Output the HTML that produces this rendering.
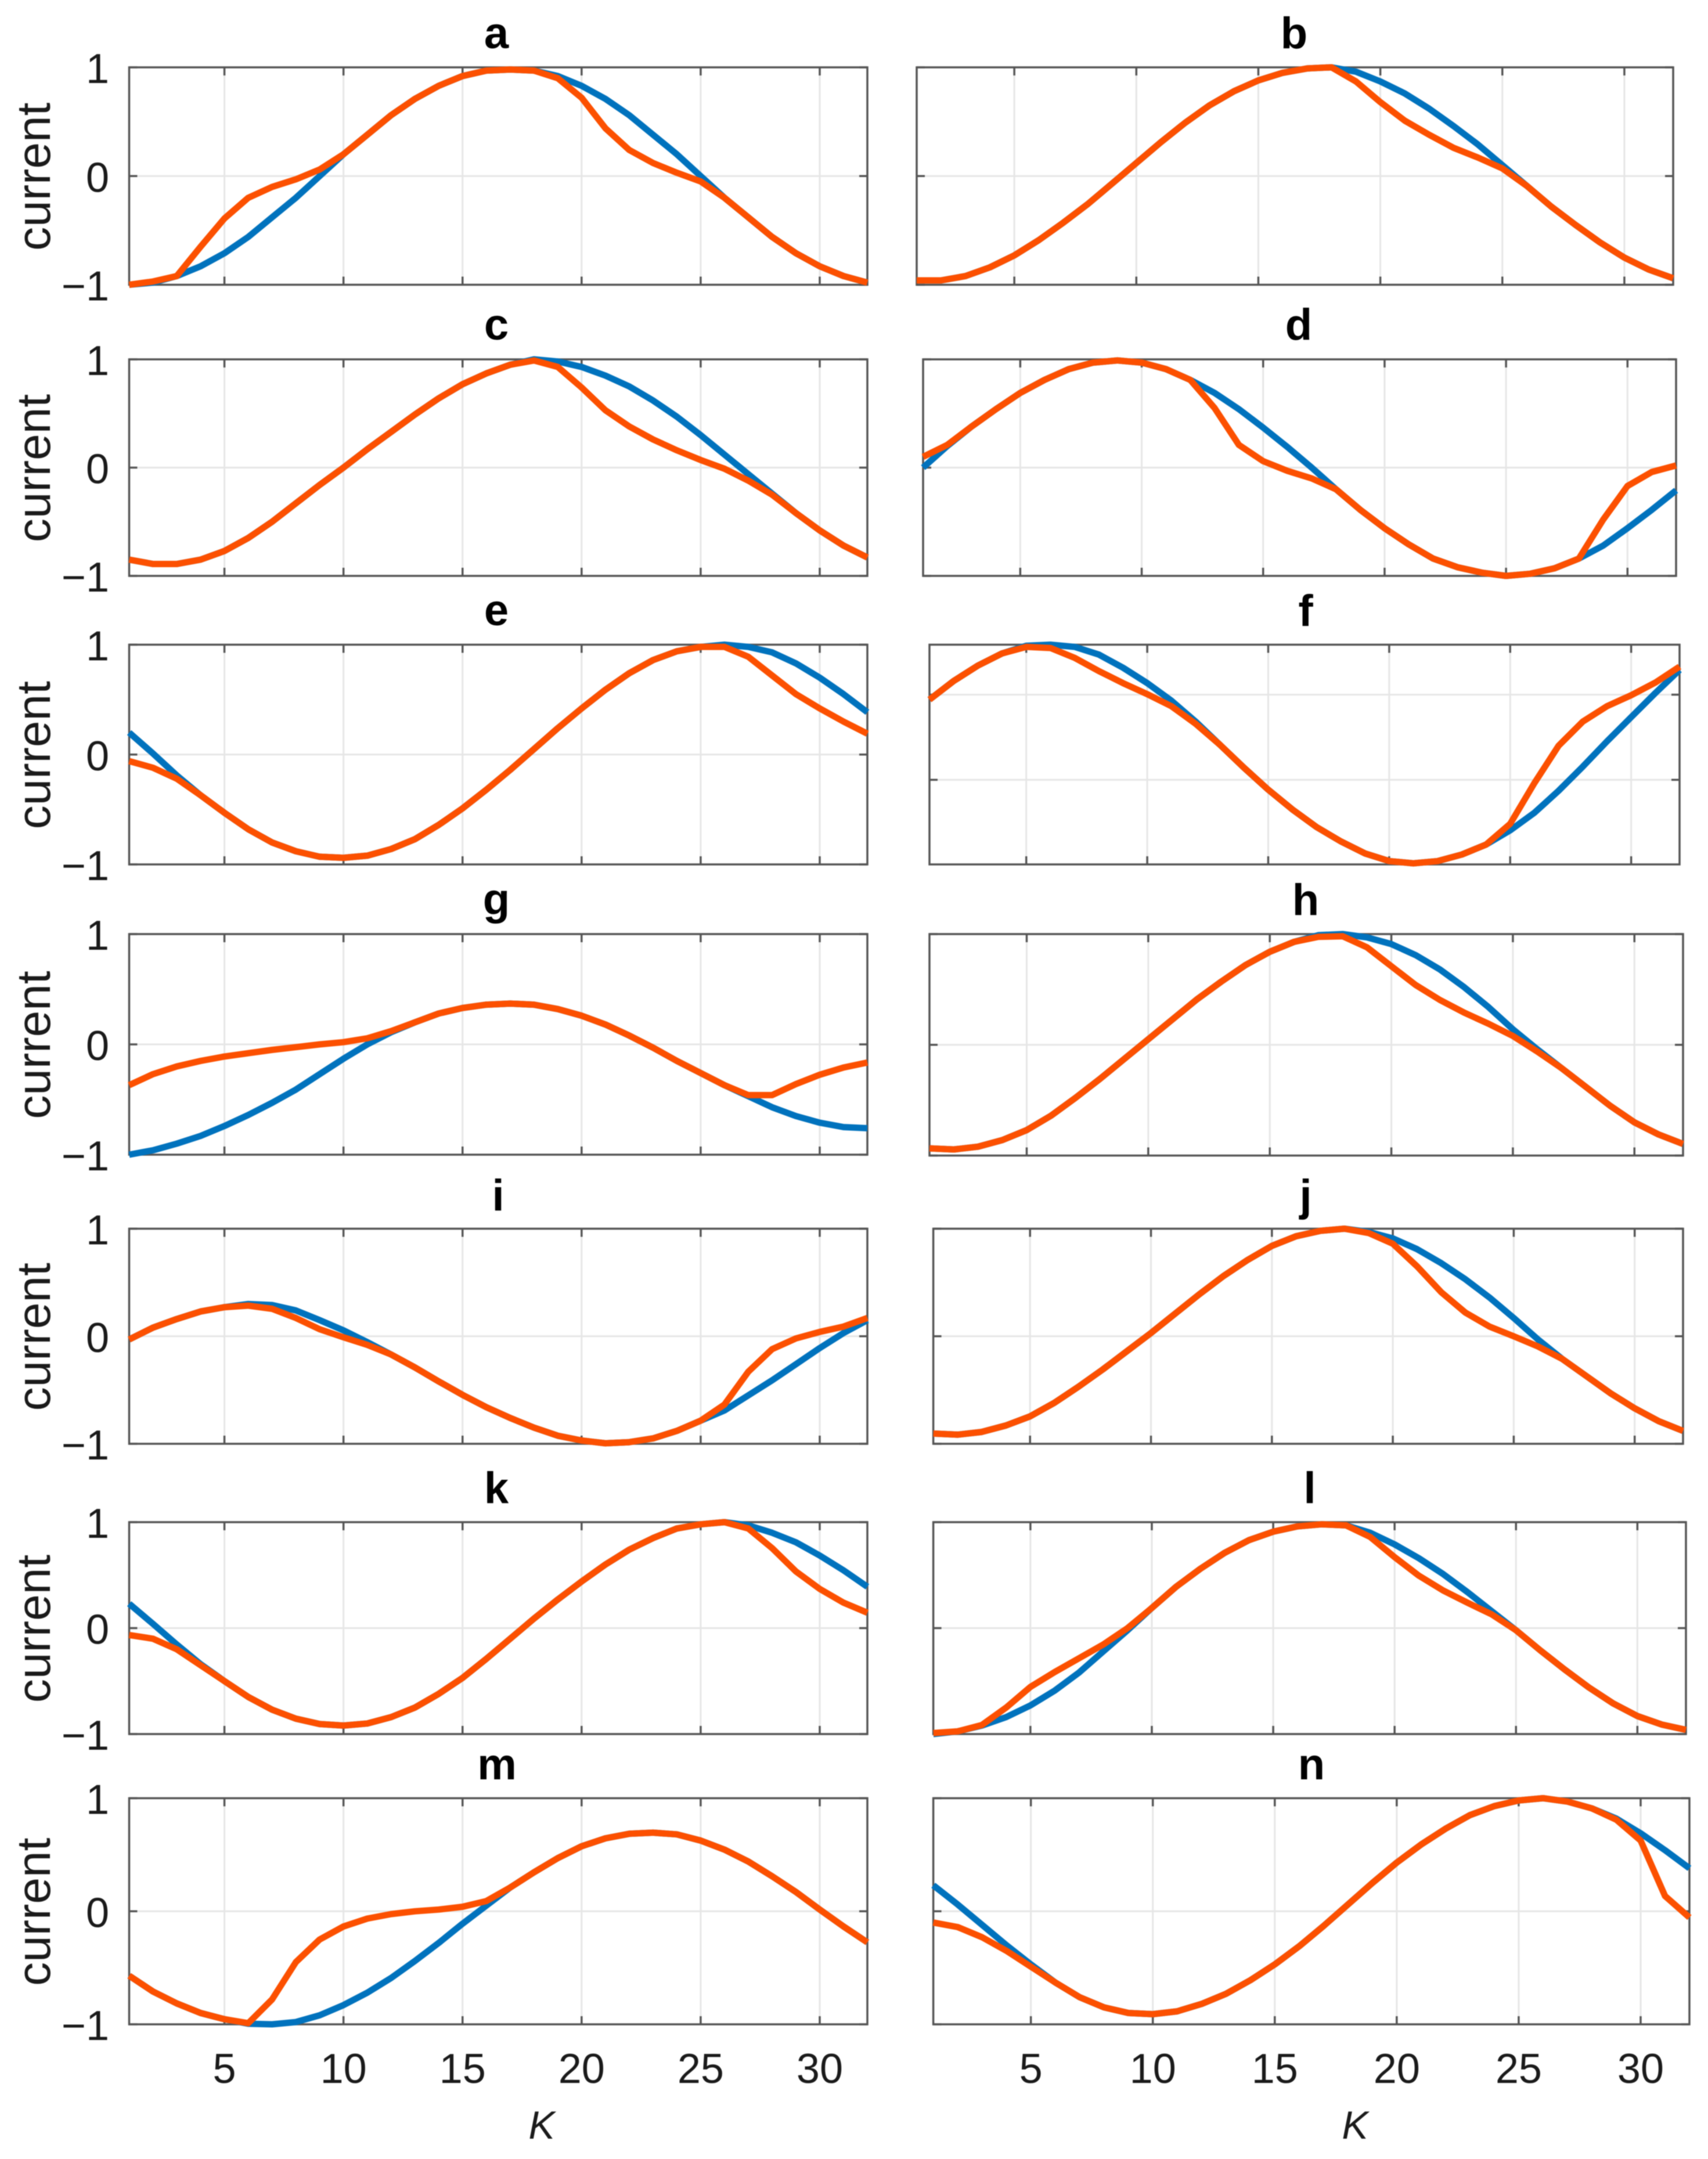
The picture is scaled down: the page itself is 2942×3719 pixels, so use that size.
<!DOCTYPE html>
<html lang="en">
<head>
<meta charset="utf-8">
<title>Current versus K panels</title>
<style>
html,body{margin:0;padding:0;background:#fff;}
svg{display:block;filter:blur(.7px);}
text{font-family:"Liberation Sans",sans-serif;fill:#1a1a1a;}
</style>
</head>
<body>
<svg id="figure" xmlns="http://www.w3.org/2000/svg" width="2942" height="3719" viewBox="0 0 2942 3719"></svg>
<script>
const kValues = [1,2,3,4,5,6,7,8,9,10,11,12,13,14,15,16,17,18,19,20,21,22,23,24,25,26,27,28,29,30,31,32];
const xTickValues = [5,10,15,20,25,30];
const yTickValues = [1,0,-1];
const fGridValues = [0.545,-0.23];
const yTickLabels = ["1","0","\u22121"];
const xTickLabels = ["5","10","15","20","25","30"];

const blueA = [-1,-.98,-.92,-.83,-.71,-.56,-.38,-.2,0,.2,.38,.56,.71,.83,.92,.97,.98,.97,.92,.83,.71,.56,.38,.2,0,-.2,-.38,-.56,-.71,-.83,-.92,-.98];
const orangeA = [-1,-.97,-.92,-.65,-.39,-.2,-.1,-.03,.06,.2,.38,.56,.71,.83,.92,.97,.98,.97,.9,.72,.44,.24,.12,.03,-.05,-.2,-.38,-.56,-.71,-.83,-.92,-.98];
const blueB = [-.96,-.96,-.92,-.84,-.73,-.59,-.43,-.26,-.07,.12,.31,.49,.65,.78,.88,.95,.99,1,.96,.87,.76,.62,.46,.29,.1,-.09,-.28,-.45,-.61,-.75,-.86,-.94];
const orangeB = [-.96,-.96,-.92,-.84,-.73,-.59,-.43,-.26,-.07,.12,.31,.49,.65,.78,.88,.95,.99,1,.87,.68,.51,.38,.26,.17,.07,-.09,-.28,-.45,-.61,-.75,-.86,-.94];
const blueC = [-.85,-.89,-.89,-.85,-.77,-.65,-.5,-.33,-.16,0,.17,.33,.49,.64,.77,.87,.95,1,.98,.93,.85,.75,.62,.47,.3,.12,-.06,-.24,-.42,-.58,-.72,-.83];
const orangeC = [-.85,-.89,-.89,-.85,-.77,-.65,-.5,-.33,-.16,0,.17,.33,.49,.64,.77,.87,.95,.99,.93,.74,.53,.38,.26,.16,.07,-.01,-.12,-.25,-.42,-.58,-.72,-.83];
const blueD = [0,.2,.38,.54,.69,.81,.91,.97,.99,.97,.91,.81,.69,.54,.37,.19,0,-.2,-.39,-.56,-.71,-.84,-.92,-.97,-1,-.98,-.93,-.84,-.72,-.56,-.39,-.21];
const orangeD = [.1,.21,.38,.54,.69,.81,.91,.97,.99,.97,.91,.81,.55,.21,.06,-.03,-.1,-.2,-.39,-.56,-.71,-.84,-.92,-.97,-1,-.98,-.93,-.84,-.48,-.17,-.04,.02];
const blueE = [.2,.01,-.19,-.37,-.53,-.68,-.8,-.88,-.93,-.94,-.92,-.86,-.77,-.64,-.49,-.32,-.14,.05,.24,.42,.59,.74,.86,.94,.98,1,.98,.93,.83,.7,.55,.385];
const orangeE = [-.06,-.12,-.22,-.37,-.53,-.68,-.8,-.88,-.93,-.94,-.92,-.86,-.77,-.64,-.49,-.32,-.14,.05,.24,.42,.59,.74,.86,.94,.98,.98,.89,.72,.55,.42,.3,.19];
const blueF = [.5,.67,.81,.92,.99,1,.98,.91,.79,.65,.49,.3,.09,-.12,-.32,-.5,-.66,-.79,-.9,-.97,-.99,-.97,-.91,-.82,-.69,-.53,-.33,-.11,.12,.34,.56,.77];
const orangeF = [.5,.67,.81,.92,.98,.97,.88,.76,.65,.55,.44,.28,.09,-.12,-.32,-.5,-.66,-.79,-.9,-.97,-.99,-.97,-.91,-.82,-.63,-.26,.08,.3,.44,.54,.655,.8];
const blueG = [-1,-.96,-.9,-.83,-.74,-.64,-.53,-.41,-.27,-.13,0,.11,.2,.28,.33,.36,.37,.36,.32,.26,.18,.08,-.03,-.15,-.26,-.37,-.47,-.57,-.65,-.71,-.75,-.76];
const orangeG = [-.37,-.27,-.2,-.15,-.11,-.08,-.05,-.025,0,.02,.055,.12,.2,.28,.33,.36,.37,.36,.32,.26,.18,.08,-.03,-.15,-.26,-.37,-.46,-.46,-.36,-.275,-.21,-.165];
const blueH = [-.935,-.945,-.92,-.86,-.77,-.64,-.48,-.31,-.13,.05,.23,.41,.57,.72,.84,.93,.99,1,.97,.91,.81,.68,.52,.34,.14,-.04,-.21,-.38,-.55,-.7,-.81,-.895];
const orangeH = [-.935,-.945,-.92,-.86,-.77,-.64,-.48,-.31,-.13,.05,.23,.41,.57,.72,.84,.93,.975,.98,.88,.71,.54,.405,.29,.19,.08,-.06,-.21,-.38,-.55,-.7,-.81,-.895];
const blueI = [-.03,.08,.16,.23,.27,.3,.29,.24,.15,.055,-.055,-.17,-.29,-.42,-.545,-.66,-.76,-.85,-.925,-.97,-.995,-.985,-.95,-.88,-.785,-.69,-.55,-.41,-.26,-.11,.03,.15];
const orangeI = [-.03,.08,.16,.23,.27,.285,.255,.17,.065,-.01,-.08,-.17,-.29,-.42,-.545,-.66,-.76,-.85,-.925,-.97,-.995,-.985,-.95,-.88,-.785,-.635,-.33,-.12,-.02,.04,.09,.17];
const blueJ = [-.905,-.915,-.89,-.83,-.745,-.62,-.47,-.31,-.14,.03,.21,.39,.56,.71,.84,.93,.98,1,.97,.91,.81,.68,.53,.36,.17,-.03,-.21,-.37,-.53,-.67,-.79,-.88];
const orangeJ = [-.905,-.915,-.89,-.83,-.745,-.62,-.47,-.31,-.14,.03,.21,.39,.56,.71,.84,.93,.98,1,.96,.86,.65,.41,.22,.09,0,-.095,-.21,-.37,-.53,-.67,-.79,-.88];
const blueK = [.23,.04,-.155,-.34,-.5,-.65,-.77,-.855,-.905,-.92,-.9,-.84,-.75,-.62,-.47,-.29,-.1,.09,.27,.44,.6,.74,.85,.94,.98,1,.97,.9,.81,.685,.545,.39];
const orangeK = [-.065,-.1,-.2,-.35,-.5,-.65,-.77,-.855,-.905,-.92,-.9,-.84,-.75,-.62,-.47,-.29,-.1,.09,.27,.44,.6,.74,.85,.94,.98,1,.94,.755,.535,.37,.24,.145];
const blueL = [-1,-.975,-.92,-.84,-.73,-.59,-.42,-.22,-.02,.19,.39,.56,.71,.83,.91,.96,.98,.97,.9,.79,.66,.51,.34,.16,-.02,-.21,-.39,-.56,-.71,-.83,-.91,-.96];
const orangeL = [-.99,-.975,-.915,-.75,-.555,-.415,-.285,-.155,0,.19,.39,.56,.71,.83,.91,.96,.98,.97,.86,.67,.495,.355,.24,.13,-.02,-.21,-.39,-.56,-.71,-.83,-.91,-.96];
const blueM = [-.57,-.71,-.815,-.9,-.955,-.995,-1,-.98,-.92,-.83,-.72,-.59,-.44,-.28,-.11,.05,.21,.345,.47,.575,.645,.685,.695,.68,.625,.545,.44,.31,.17,.015,-.135,-.275];
const orangeM = [-.57,-.71,-.815,-.9,-.955,-.99,-.78,-.45,-.25,-.135,-.065,-.025,0,.015,.04,.09,.21,.345,.47,.575,.645,.685,.695,.68,.625,.545,.44,.31,.17,.015,-.135,-.275];
const blueN = [.23,.06,-.12,-.3,-.47,-.63,-.76,-.85,-.9,-.91,-.885,-.82,-.73,-.61,-.47,-.31,-.13,.06,.25,.43,.59,.73,.85,.93,.98,1,.97,.91,.82,.69,.54,.38];
const orangeN = [-.1,-.14,-.23,-.35,-.49,-.63,-.76,-.85,-.9,-.91,-.885,-.82,-.73,-.61,-.47,-.31,-.13,.06,.25,.43,.59,.73,.85,.93,.98,1,.97,.91,.81,.625,.135,-.055];

const seriesByPanel = {
  a:[blueA,orangeA], b:[blueB,orangeB], c:[blueC,orangeC], d:[blueD,orangeD],
  e:[blueE,orangeE], f:[blueF,orangeF], g:[blueG,orangeG], h:[blueH,orangeH],
  i:[blueI,orangeI], j:[blueJ,orangeJ], k:[blueK,orangeK], l:[blueL,orangeL],
  m:[blueM,orangeM], n:[blueN,orangeN]
};

/* layout of the axes, separate from the data */
const L0 = 222.5, L1 = 1494;
const layout = [
  {id:'a',l:L0,r:L1,t:116,b:490.5,tx:855,ty:83},
  {id:'b',l:1579,r:2882,t:116,b:490.5,tx:2229,ty:83},
  {id:'c',l:L0,r:L1,t:619,b:992,tx:855,ty:585},
  {id:'d',l:1590,r:2887,t:619,b:992,tx:2237,ty:585},
  {id:'e',l:L0,r:L1,t:1110.5,b:1489,tx:855,ty:1077},
  {id:'f',l:1601,r:2893,t:1110.5,b:1489,tx:2249,ty:1078},
  {id:'g',l:L0,r:L1,t:1609,b:1989,tx:855,ty:1575},
  {id:'h',l:1601,r:2899,t:1609,b:1990.5,tx:2249,ty:1576},
  {id:'i',l:L0,r:L1,t:2116.5,b:2487,tx:858,ty:2085},
  {id:'j',l:1607.6,r:2899,t:2116.5,b:2487,tx:2249,ty:2085},
  {id:'k',l:L0,r:L1,t:2622,b:2987,tx:855,ty:2589},
  {id:'l',l:1607.6,r:2904,t:2622,b:2987,tx:2256,ty:2589},
  {id:'m',l:L0,r:L1,t:3097.5,b:3487,tx:856,ty:3065},
  {id:'n',l:1607.6,r:2910,t:3097.5,b:3487,tx:2259,ty:3065}
];

const NS = 'http://www.w3.org/2000/svg';
const svg = document.getElementById('figure');
const AXIS = '#555555', GRID = '#e6e6e6', BLUE = '#0072bd', ORANGE = '#fc5000';

function mk(parent, tag, attrs, txt){
  const e = document.createElementNS(NS, tag);
  for (const k in attrs) e.setAttribute(k, attrs[k]);
  if (txt !== undefined) e.textContent = txt;
  parent.appendChild(e);
  return e;
}

layout.forEach(function(box, idx){
  const xOf = function(k){ return box.l + (k - 1) / 31 * (box.r - box.l); };
  const yOf = function(v){ return (box.t + box.b) / 2 - v * (box.b - box.t) / 2; };
  const isLeft = idx % 2 === 0;
  const isBottom = box.id === 'm' || box.id === 'n';
  const g = mk(svg, 'g', {});
  
  

  const title = mk(g, 'text', {x:box.tx, y:box.ty, 'text-anchor':'middle', 'font-size':76, 'font-weight':'bold', style:'fill:#000'}, box.id);
  
  

  const gridYs = box.id === 'f' ? fGridValues : [0];
  xTickValues.forEach(function(k){
    const line = mk(g, 'line', {x1:xOf(k), x2:xOf(k), y1:box.t, y2:box.b, stroke:GRID, 'stroke-width':3});
    
    
  });
  gridYs.forEach(function(v){
    const line = mk(g, 'line', {x1:box.l, x2:box.r, y1:yOf(v), y2:yOf(v), stroke:GRID, 'stroke-width':3});
    
    
  });

  const frame = mk(g, 'rect', {x:box.l, y:box.t, width:box.r-box.l, height:box.b-box.t, fill:'none', stroke:AXIS, 'stroke-width':3.5});
  
  

  xTickValues.forEach(function(k){
    [[box.t, box.t+14],[box.b, box.b-14]].forEach(function(p){
      const t = mk(g, 'line', {x1:xOf(k), x2:xOf(k), y1:p[0], y2:p[1], stroke:AXIS, 'stroke-width':3.5});
      
      
    });
  });
  const tickYs = box.id === 'f' ? fGridValues : yTickValues;
  tickYs.forEach(function(v){
    [[box.l, box.l+14],[box.r, box.r-14]].forEach(function(p){
      const t = mk(g, 'line', {x1:p[0], x2:p[1], y1:yOf(v), y2:yOf(v), stroke:AXIS, 'stroke-width':3.5});
      
      
    });
  });

  if (isLeft) {
    yTickValues.forEach(function(v, i){
      const t = mk(g, 'text', {x:188, y:yOf(v)+27, 'text-anchor':'end', 'font-size':72}, yTickLabels[i]);
      
      
    });
    const cy = (box.t + box.b) / 2;
    const yl = mk(g, 'text', {x:0, y:0, 'text-anchor':'middle', 'font-size':82, transform:'translate(86 ' + (cy + 1) + ') rotate(-90)'}, 'current');
    
    
  }
  if (isBottom) {
    xTickValues.forEach(function(k, i){
      const t = mk(g, 'text', {x:xOf(k), y:3588, 'text-anchor':'middle', 'font-size':72}, xTickLabels[i]);
      
      
    });
    const xl = mk(g, 'text', {x:box.id === 'm' ? 933 : 2334, y:3684, 'text-anchor':'middle', 'font-size':68, 'font-style':'italic'}, 'K');
    
    
  }

  const series = seriesByPanel[box.id];
  [BLUE, ORANGE].forEach(function(color, si){
    const pts = kValues.map(function(k, i){ return xOf(k).toFixed(1) + ',' + yOf(series[si][i]).toFixed(1); }).join(' ');
    const pl = mk(g, 'polyline', {points:pts, fill:'none', stroke:color, 'stroke-width':11, 'stroke-linejoin':'round', 'stroke-linecap':'butt'});
    
    
  });
});
</script>
</body>
</html>
